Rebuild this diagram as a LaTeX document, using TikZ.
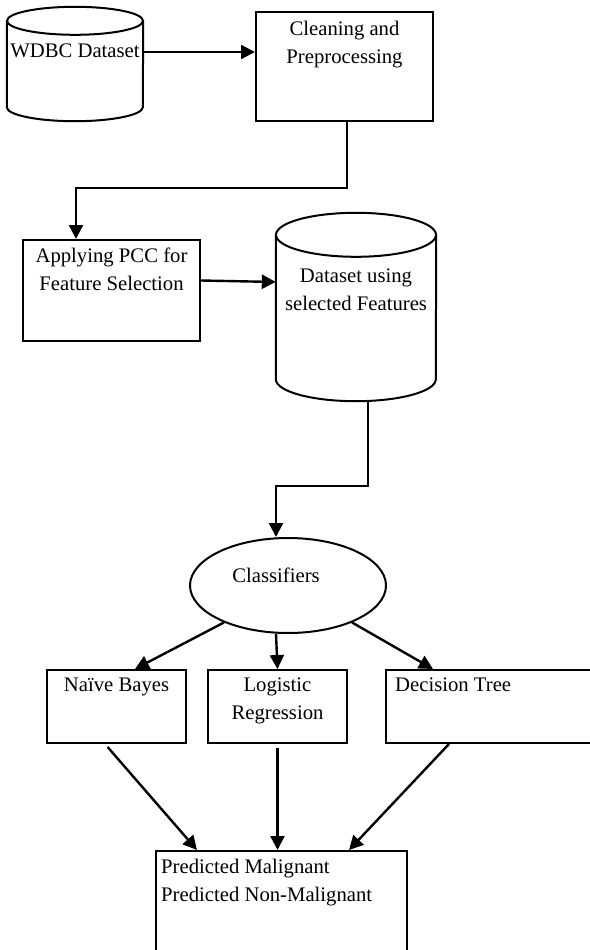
\documentclass[tikz,border=0pt]{standalone}
\usepackage{fontspec}
\setmainfont{Liberation Serif}
\usetikzlibrary{arrows.meta,positioning,shapes.geometric}

\tikzset{
  shapeline/.style={line width=2pt},
  procbox/.style={shapeline, draw, rectangle, inner sep=0pt},
  flowarrow/.style={line width=2.4pt, -{Triangle[length=14pt,width=14pt]}},
  lbl/.style={inner sep=0pt, align=center, font=\fontsize{20.7pt}{28pt}\selectfont},
}

\begin{document}
\begin{tikzpicture}[x=1pt, y=-1pt]
  \useasboundingbox (0,0) rectangle (589,950);

  % Shapes of the flow
  \node[inner sep=0pt, minimum width=136pt, minimum height=114pt] (wdbc) at (75,64) {};
  \node[procbox, minimum width=177pt, minimum height=109pt] (clean) at (344.5,66.5) {};
  \node[procbox, minimum width=177pt, minimum height=101pt] (apply) at (111.5,290.5) {};
  \node[inner sep=0pt, minimum width=160pt, minimum height=188pt] (dsel) at (356,307) {};
  \node[shapeline, draw, ellipse, inner sep=0pt, minimum width=196pt, minimum height=95pt] (cls) at (288,585.5) {};
  \node[procbox, minimum width=139pt, minimum height=73pt] (nb) at (116.5,706.5) {};
  \node[procbox, minimum width=139pt, minimum height=73pt] (lr) at (277.5,706.5) {};
  \node[procbox, minimum width=210pt, minimum height=73pt] (dt) at (491,706.5) {};
  \node[procbox, minimum width=251pt, minimum height=109pt] (pred) at (281.5,905.5) {};

  % Draw the two drums
  \draw[shapeline] ([yshift=-14pt]wdbc.north) ellipse (68 and 14);
  \draw[shapeline] ([yshift=-14pt]wdbc.north west) -- ([yshift=14pt]wdbc.south west)
    arc (180:0:68 and 14) -- ([yshift=-14pt]wdbc.north east);
  \draw[shapeline] ([yshift=-22pt]dsel.north) ellipse (80 and 22);
  \draw[shapeline] ([yshift=-22pt]dsel.north west) -- ([yshift=22pt]dsel.south west)
    arc (180:0:80 and 22) -- ([yshift=-22pt]dsel.north east);

  % Labels
  \node[lbl, below=36.5pt of wdbc.north] {WDBC Dataset};
  \node[lbl, below=9.5pt of clean.north] {Cleaning and\\Preprocessing};
  \node[lbl, below=8.5pt of apply.north] {Applying PCC for\\Feature Selection};
  \node[lbl, below=55.5pt of dsel.north] {Dataset using\\selected Features};
  \node[lbl] at ([xshift=-12pt,yshift=9.7pt]cls.center) {Classifiers};
  \node[lbl, below=8.5pt of nb.north] {Naïve Bayes};
  \node[lbl, below=8.5pt of lr.north] {Logistic\\Regression};
  \node[lbl, anchor=north west] at ([xshift=10pt,yshift=-8.5pt]dt.north west) {Decision Tree};
  \node[lbl, align=left, anchor=north west] at ([xshift=6pt,yshift=-8.5pt]pred.north west)
    {Predicted Malignant\\Predicted Non-Malignant};

  % Connectors
  \draw[flowarrow] ([yshift=12pt]wdbc.east) -- ([yshift=14.5pt]clean.west);
  \draw[flowarrow] ([xshift=2.5pt]clean.south) -- ++(0,66) -| ([xshift=-35.5pt]apply.north);
  \draw[flowarrow] ([yshift=10pt]apply.east) -- ([yshift=25pt]dsel.west);
  \draw[flowarrow] ([xshift=12pt]dsel.south) -- ++(0,85) -| ([xshift=-12pt]cls.north);
  \draw[flowarrow] (cls.210) -- ([xshift=18.5pt]nb.north);
  \draw[flowarrow] ([xshift=-12pt]cls.south) -- (lr.north);
  \draw[flowarrow] (cls.330) -- ([xshift=48pt]dt.north west);
  \draw[flowarrow, shorten <=4pt] ([xshift=-11.5pt]nb.south) -- ([xshift=42pt]pred.north west);
  \draw[flowarrow, shorten <=4pt] (lr.south) -- (lr.south |- pred.north);
  \draw[flowarrow] ([xshift=64pt]dt.south west) -- ([xshift=-59pt]pred.north east);
\end{tikzpicture}
\end{document}
